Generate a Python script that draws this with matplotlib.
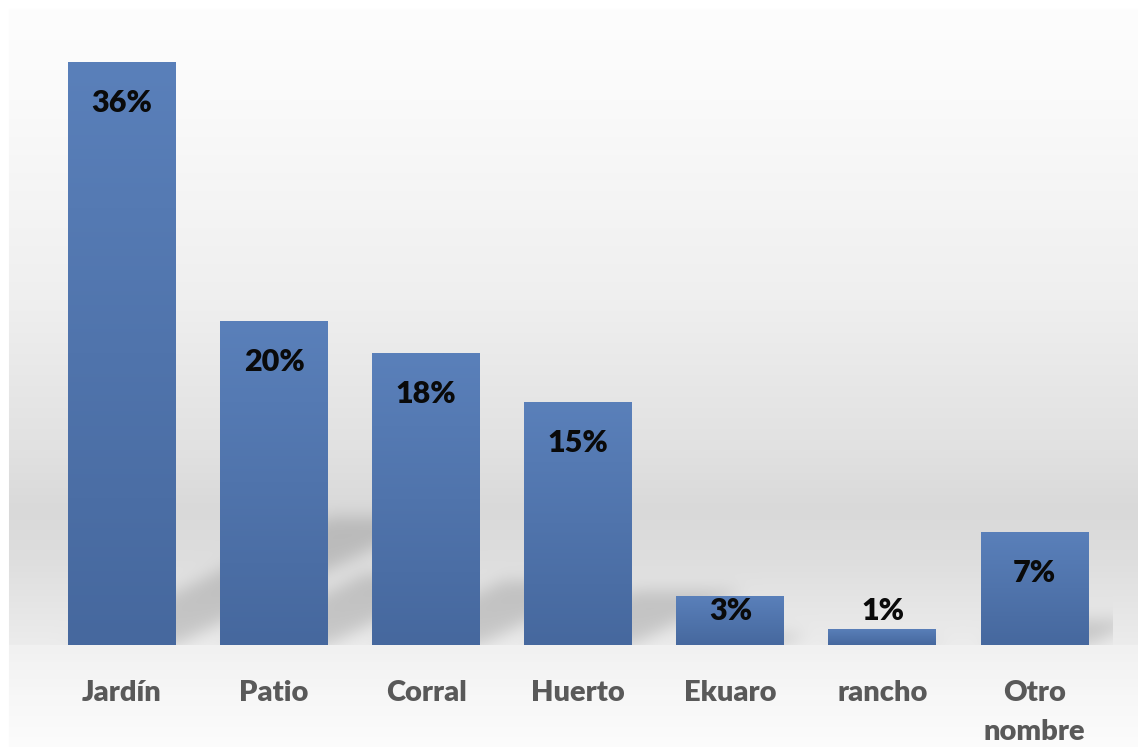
import numpy as np
import matplotlib
matplotlib.use("Agg")
import matplotlib.pyplot as plt
from matplotlib.path import Path as MplPath
from matplotlib.colors import to_rgb

# ── data ──────────────────────────────────────────────────────────────────────
categories = ["Jardín", "Patio", "Corral", "Huerto", "Ekuaro", "rancho", "Otro\nnombre"]
shares = [36, 20, 18, 15, 3, 1, 7]
labels = [f"{v}%" for v in shares]

# ── styling ───────────────────────────────────────────────────────────────────
W, H, DPI = 1138, 747, 100
BAR_TOP = "#5a80ba"
BAR_BOT = "#46689e"
CAT_COLOUR = "#595959"
FONT = "Lato"
BAR_WIDTH = 0.71


def gaussian_blur(img, sigma):
    r = int(3 * sigma)
    k = np.exp(-0.5 * (np.arange(-r, r + 1) / sigma) ** 2)
    k /= k.sum()
    out = np.apply_along_axis(lambda m: np.convolve(m, k, mode="same"), 0, img)
    out = np.apply_along_axis(lambda m: np.convolve(m, k, mode="same"), 1, out)
    return out


fig = plt.figure(figsize=(W / DPI, H / DPI), dpi=DPI)
ax = fig.add_axes([0, 0, 1, 1])
ax.set_xlim(-0.802, 6.68)
ax.set_ylim(-6.30, 39.81)
ax.axis("off")

x = np.arange(len(categories))

# pixel row of the baseline (image rows count from the top)
base_row = H - ax.transData.transform((0, 0))[1]
px_per_unit = ax.transData.transform((0, 1))[1] - ax.transData.transform((0, 0))[1]

# ── background: grey "floor" gradient, darkest a little above the baseline ───
rows = np.arange(H)
prof_rows = [0, 10, 100, 300, 450, 510, 560, base_row - 1]
prof_vals = [255, 253, 250, 239, 225, 217, 222, 236]
grey = np.interp(rows, prof_rows, prof_vals)
below = rows >= base_row
grey[below] = np.interp(rows[below], [base_row, base_row + 50, H], [241, 247, 252])
bg = np.repeat(grey[:, None], W, axis=1)
bg[:, :9] = 255
bg[:9, :] = 255

# ── perspective shadows behind each bar, skewed up and to the right ───────────
yy, xx = np.mgrid[0:H, 0:W]
pts = np.column_stack([xx.ravel() + 0.5, yy.ravel() + 0.5])
shadow = np.zeros((H, W))
for xi, v in zip(x, shares):
    left = ax.transData.transform((xi - BAR_WIDTH / 2, 0))[0]
    right = ax.transData.transform((xi + BAR_WIDTH / 2, 0))[0]
    h_px = v * px_per_unit
    hs, dx = 0.22 * h_px, 0.45 * h_px
    poly = MplPath([(left, base_row), (right, base_row),
                    (right + dx, base_row - hs), (left + dx, base_row - hs)])
    shadow = np.maximum(shadow, poly.contains_points(pts).reshape(H, W).astype(float))
shadow = gaussian_blur(shadow, 8)
shadow[rows >= base_row, :] = 0
shadow[:, 1113:] = 0
bg = bg * (1 - 0.15 * shadow)

ax.imshow(np.dstack([bg / 255] * 3), extent=(0, 1, 0, 1), transform=ax.transAxes,
          aspect="auto", zorder=0, interpolation="bilinear")

# ── bars with a vertical gradient ─────────────────────────────────────────────
top_rgb, bot_rgb = np.array(to_rgb(BAR_TOP)), np.array(to_rgb(BAR_BOT))
grad = np.linspace(0, 1, 256)[:, None, None]
grad_img = top_rgb * (1 - grad) + bot_rgb * grad
bars = ax.bar(x, shares, width=BAR_WIDTH, color=BAR_BOT, zorder=2, linewidth=0)
for b in bars:
    x0, y0 = b.get_x(), b.get_y()
    im = ax.imshow(grad_img, extent=(x0, x0 + b.get_width(), y0, y0 + b.get_height()),
                   aspect="auto", zorder=3, interpolation="bilinear")
    im.set_clip_path(b)

# ── value labels: inside the top of the bar, or above it if the bar is short ─
for xi, v, lab in zip(x, shares, labels):
    h_px = v * px_per_unit
    if h_px > 80:
        off = -41
    elif h_px > 30:
        off = -15
    else:
        off = 18
    ax.annotate(lab, xy=(xi, v), xytext=(0, off), textcoords="offset pixels",
                ha="center", va="center", fontsize=22, fontweight="heavy",
                family=FONT, color="#0a0a0a", zorder=5)

# ── category labels ───────────────────────────────────────────────────────────
for xi, cat in zip(x, categories):
    ax.annotate(cat, xy=(xi, 0), xytext=(0, -35), textcoords="offset pixels",
                ha="center", va="top", fontsize=21, fontweight="heavy",
                family=FONT, color=CAT_COLOUR, linespacing=1.6, zorder=5)

fig.savefig("out.png", dpi=DPI)
